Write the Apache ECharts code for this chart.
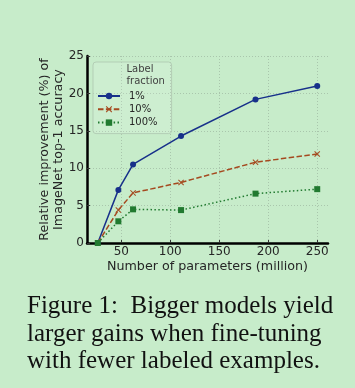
<!DOCTYPE html>
<html><head><meta charset="utf-8">
<style>html,body{margin:0;padding:0;background:#c7ecca;}#c{width:355px;height:388px;}</style>
<script src="https://cdn.jsdelivr.net/npm/echarts@6/dist/echarts.min.js"></script>
</head><body><div id="c"></div>
<script>
const params = [26, 47, 62, 111, 187, 250];
const pct1 = [0, 7.1, 10.5, 14.3, 19.2, 21.0];
const pct10 = [0, 4.4, 6.7, 8.1, 10.8, 11.9];
const pct100 = [0, 2.9, 4.5, 4.4, 6.6, 7.2];
const xTicks = [50, 100, 150, 200, 250];
const seriesNames = ['1%', '10%', '100%'];
const captionLines = ['Figure 1:  Bigger models yield', 'larger gains when fine-tuning', 'with fewer labeled examples.'];

const xShape = 'path://M0,1.2 L1.2,0 L5,3.8 L8.8,0 L10,1.2 L6.2,5 L10,8.8 L8.8,10 L5,6.2 L1.2,10 L0,8.8 L3.8,5 Z';
const toPts = ys => params.map((x, i) => [x, ys[i]]);
const font = 'DejaVu Sans';
const txt = '#262626';

const chart = echarts.init(document.getElementById('c'), null, {renderer: 'canvas'});
chart.setOption({
  backgroundColor: '#c7ecca',
  animation: false,
  grid: {left: 87, right: 27, top: 56, bottom: 145, containLabel: false},
  xAxis: {
    type: 'value', min: 15, max: 261,
    name: 'Number of parameters (million)', nameLocation: 'middle', nameGap: 17,
    nameTextStyle: {fontFamily: font, fontSize: 12.7, color: txt},
    axisLine: {show: true, onZero: false, lineStyle: {color: '#000', width: 2.5}},
    axisTick: {show: true, inside: true, length: 3, customValues: xTicks, lineStyle: {color: '#333'}},
    axisLabel: {customValues: xTicks, fontFamily: font, fontSize: 12, color: txt, margin: 3},
    splitLine: {show: true, lineStyle: {color: '#a9c6ac', type: [1, 2], width: 1}}
  },
  yAxis: {
    type: 'value', min: 0, max: 25, interval: 5,
    name: 'Relative improvement (%) of\nImageNet top-1 accuracy', nameLocation: 'middle', nameGap: 22, nameRotate: 90,
    nameMoveOverlap: false,
    nameTextStyle: {fontFamily: font, fontSize: 12.7, color: txt, lineHeight: 13.5},
    axisLine: {show: true, lineStyle: {color: '#000', width: 2.5}},
    axisTick: {show: true, inside: true, length: 3, lineStyle: {color: '#333'}},
    axisLabel: {fontFamily: font, fontSize: 12, color: txt, margin: 3},
    splitLine: {show: true, lineStyle: {color: '#a9c6ac', type: [1, 2], width: 1}}
  },
  legend: {
    orient: 'vertical', left: 93, top: 62,
    padding: [29, 14, 6, 4], itemGap: 3.3, itemWidth: 22, itemHeight: 8,
    backgroundColor: 'rgba(255,255,255,0.12)', borderColor: '#b3ceb5', borderWidth: 1, borderRadius: 3,
    textStyle: {fontFamily: font, fontSize: 10, color: txt, padding: [0, 0, 0, 4]},
    data: seriesNames
  },
  series: [
    {name: seriesNames[0], type: 'line', data: toPts(pct1), symbol: 'circle', symbolSize: 6, clip: false,
     lineStyle: {color: '#17308a', width: 1.5}, itemStyle: {color: '#17308a'}},
    {name: seriesNames[1], type: 'line', data: toPts(pct10), symbol: xShape, symbolSize: 6, clip: false,
     lineStyle: {color: '#a5491f', width: 1.5, type: [5.5, 2.4]}, itemStyle: {color: '#a5491f'}},
    {name: seriesNames[2], type: 'line', data: toPts(pct100), symbol: 'rect', symbolSize: 6, clip: false,
     lineStyle: {color: '#217a30', width: 1.5, type: [1.5, 2.4]}, itemStyle: {color: '#217a30'}}
  ],
  graphic: [
    {type: 'text', x: 126.5, y: 64, style: {text: 'Label\nfraction', font: '10px "DejaVu Sans"', lineHeight: 11.3, verticalAlign: 'top', fill: txt}},
    {type: 'text', x: 25, y: 7.5, style: {text: '1', font: 'bold 31.5px "Liberation Serif"', verticalAlign: 'bottom', fill: '#333'}},
    {type: 'text', x: 74, y: 7.5, style: {text: 'Introduction', font: 'bold 31.5px "Liberation Serif"', verticalAlign: 'bottom', fill: '#333'}},
    {type: 'text', x: 27, y: 306.6, style: {text: captionLines[0], font: '25px "Liberation Serif"', verticalAlign: 'middle', fill: '#111'}},
    {type: 'text', x: 27, y: 334.3, style: {text: captionLines[1], font: '25px "Liberation Serif"', verticalAlign: 'middle', fill: '#111'}},
    {type: 'text', x: 27, y: 361.6, style: {text: captionLines[2], font: '25px "Liberation Serif"', verticalAlign: 'middle', fill: '#111'}}
  ]
});
</script></body></html>
